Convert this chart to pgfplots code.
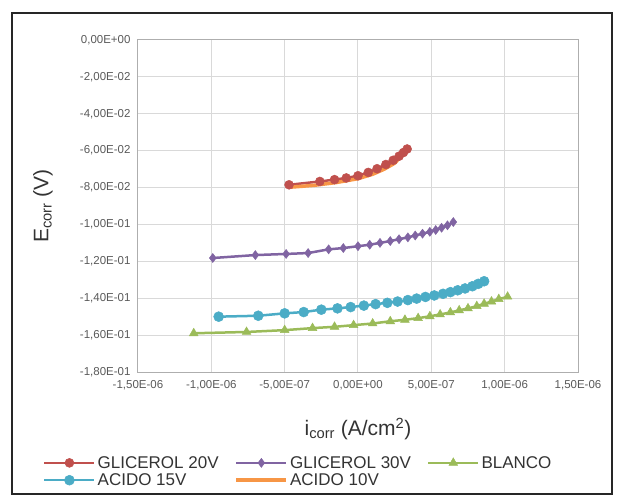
\documentclass[border=0pt]{standalone}
\usepackage{fontspec}
\setmainfont{Liberation Sans}
\usepackage{pgfplots}
\pgfplotsset{compat=1.18}
\definecolor{cRed}{RGB}{192,80,77}
\definecolor{cPur}{RGB}{128,100,162}
\definecolor{cGrn}{RGB}{155,187,89}
\definecolor{cCya}{RGB}{75,172,198}
\definecolor{cOra}{RGB}{247,150,70}
\definecolor{cGrid}{RGB}{217,217,217}
\definecolor{cTxt}{RGB}{89,89,89}
\begin{document}
\begin{tikzpicture}
\begin{axis}[
  at={(0,0)}, anchor=south west,
  scale only axis, width=440bp, height=332bp,
  xmin=-1.5e-6, xmax=1.5e-6, ymin=-0.18, ymax=0,
  scaled x ticks=false, scaled y ticks=false,
  xtick={-1.5e-6,-1e-6,-5e-7,0,5e-7,1e-6,1.5e-6},
  xticklabels={{-1,50E-06},{-1,00E-06},{-5,00E-07},{0,00E+00},{5,00E-07},{1,00E-06},{1,50E-06}},
  ytick={-0.18,-0.16,-0.14,-0.12,-0.10,-0.08,-0.06,-0.04,-0.02,0},
  yticklabels={{-1,80E-01},{-1,60E-01},{-1,40E-01},{-1,20E-01},{-1,00E-01},{-8,00E-02},{-6,00E-02},{-4,00E-02},{-2,00E-02},{0,00E+00}},
  grid=major, major grid style={cGrid, line width=1bp},
  axis line style={cGrid!80!black, line width=1bp},
  major tick length=0pt,
  tick label style={font=\fontsize{11.5bp}{13bp}\selectfont, text=cTxt},
  xticklabel style={yshift=-5bp},
  yticklabel style={xshift=-4bp},
  xlabel={i\textsubscript{corr} (A/cm\textsuperscript{2})},
  ylabel={E\textsubscript{corr} (V)},
  every axis x label/.style={at={(rel axis cs:0.5,0)}, yshift=-57bp, anchor=center,
    font=\fontsize{21bp}{24bp}\selectfont, text=black!80},
  every axis y label/.style={at={(rel axis cs:0,0.5)}, xshift=-95bp, anchor=center, rotate=90,
    font=\fontsize{21bp}{24bp}\selectfont, text=black!80},
  legend columns=3,
  legend cell align=left,
  legend style={at={(rel axis cs:0,0)}, anchor=north west, xshift=-98bp, yshift=-80bp,
    draw=none, fill=none, font=\fontsize{17bp}{19bp}\selectfont, text=black!80,
    /tikz/every even column/.append style={column sep=14bp}},
  legend image code/.code={\draw[mark repeat=2,mark phase=2,#1] plot coordinates {(0bp,0bp) (25bp,0bp) (50bp,0bp)};},
  every axis plot/.append style={line width=2.5bp},
]
\addplot[cRed, mark=*, mark size=4.5bp, mark options={fill=cRed, line width=0.5bp}] coordinates {
(-4.7e-7,-0.0785) (-2.6e-7,-0.0767) (-1.6e-7,-0.0757) (-0.8e-7,-0.0748) (0,-0.0736)
(0.7e-7,-0.0718) (1.3e-7,-0.0698) (1.9e-7,-0.0675) (2.4e-7,-0.0652) (2.8e-7,-0.0630)
(3.1e-7,-0.0610) (3.35e-7,-0.0591)};
\addlegendentry{GLICEROL 20V}
\addplot[cPur, mark=diamond*, mark size=4.5bp, mark options={fill=cPur, line width=0.5bp}] coordinates {
(-9.9e-7,-0.1182) (-7.0e-7,-0.1166) (-4.9e-7,-0.1160) (-3.4e-7,-0.1155) (-2.0e-7,-0.1135)
(-1.0e-7,-0.1128) (0,-0.1118) (0.8e-7,-0.1110) (1.5e-7,-0.1100) (2.2e-7,-0.1090)
(2.8e-7,-0.1080) (3.4e-7,-0.1070) (3.9e-7,-0.1060) (4.4e-7,-0.1050) (4.9e-7,-0.1040)
(5.3e-7,-0.1030) (5.7e-7,-0.1018) (6.1e-7,-0.1005) (6.5e-7,-0.0987)};
\addlegendentry{GLICEROL 30V}
\addplot[cGrn, mark=triangle*, mark size=5bp, mark options={fill=cGrn, line width=0.5bp}] coordinates {
(-1.12e-6,-0.1590) (-7.6e-7,-0.1583) (-5.0e-7,-0.1573) (-3.1e-7,-0.1562) (-1.6e-7,-0.1555)
(-0.3e-7,-0.1546) (1.0e-7,-0.1537) (2.2e-7,-0.1525) (3.2e-7,-0.1517) (4.1e-7,-0.1508)
(4.9e-7,-0.1498) (5.6e-7,-0.1488) (6.3e-7,-0.1477) (6.9e-7,-0.1466) (7.5e-7,-0.1455)
(8.1e-7,-0.1443) (8.6e-7,-0.1430) (9.1e-7,-0.1418) (9.6e-7,-0.1405) (1.02e-6,-0.1392)};
\addlegendentry{BLANCO}
\addplot[cCya, mark=*, mark size=5bp, mark options={fill=cCya, line width=0.5bp}] coordinates {
(-9.5e-7,-0.1500) (-6.8e-7,-0.1495) (-5.0e-7,-0.1482) (-3.7e-7,-0.1475) (-2.5e-7,-0.1462)
(-1.4e-7,-0.1455) (-0.5e-7,-0.1448) (0.4e-7,-0.1440) (1.2e-7,-0.1432) (2.0e-7,-0.1425)
(2.7e-7,-0.1418) (3.4e-7,-0.1410) (4.0e-7,-0.1402) (4.6e-7,-0.1393) (5.2e-7,-0.1385)
(5.8e-7,-0.1376) (6.3e-7,-0.1367) (6.8e-7,-0.1357) (7.3e-7,-0.1347) (7.8e-7,-0.1335)
(8.2e-7,-0.1322) (8.6e-7,-0.1308)};
\addlegendentry{ACIDO 15V}
\addplot[cOra, line width=3.5bp] coordinates {
(-4.6e-7,-0.0798) (-3.0e-7,-0.0788) (-1.5e-7,-0.0773) (0,-0.0752) (1.0e-7,-0.0728)
(1.8e-7,-0.0700) (2.5e-7,-0.0668) (3.2e-7,-0.0610)};
\addlegendentry{ACIDO 10V}
\end{axis}
\draw[line width=2bp, black!85] (-126bp,-122bp) rectangle (474bp,359bp);
\pgfresetboundingbox
\path[use as bounding box] (-138bp,-130bp) rectangle (485bp,372bp);
\end{tikzpicture}
\end{document}
